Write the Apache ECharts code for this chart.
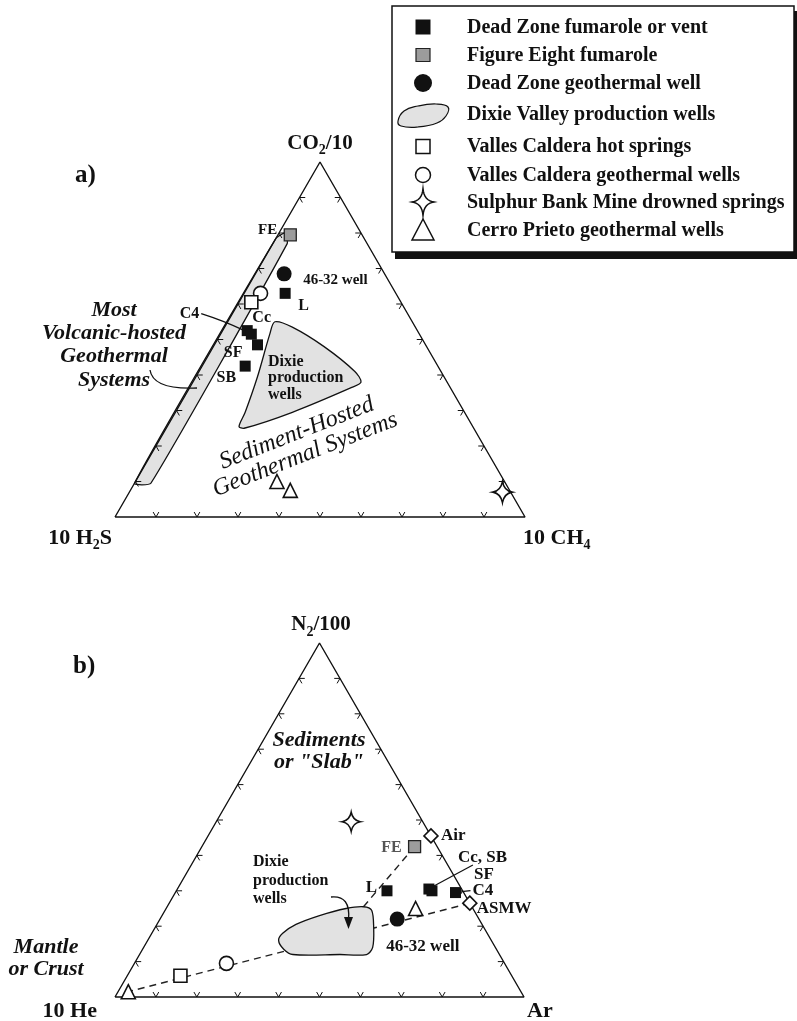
<!DOCTYPE html>
<html>
<head>
<meta charset="utf-8">
<script src="https://cdn.jsdelivr.net/npm/echarts@6/dist/echarts.min.js"></script>
<style>
  html, body { margin: 0; padding: 0; background: #fff; }
  #chart { width: 797px; height: 1021px; }
</style>
</head>
<body>
<div id="chart"></div>
<script>
// ---------------- data ----------------
// tick positions along every triangle side, in percent
const tickPercents = [10, 20, 30, 40, 50, 60, 70, 80, 90];

const legendNames = [
  'Dead Zone fumarole or vent',
  'Figure Eight fumarole',
  'Dead Zone geothermal well',
  'Dixie Valley production wells',
  'Valles Caldera hot springs',
  'Valles Caldera geothermal wells',
  'Sulphur Bank Mine drowned springs',
  'Cerro Prieto geothermal wells'
];

// Panel a: relative proportions [CO2/10, 10 H2S, 10 CH4] in percent
const aVertexNames = ['CO2/10', '10 H2S', '10 CH4'];
const aDeadZoneNames = ['C4', 'Cc', 'SF', 'SB', 'L'];
const aDeadZoneVents = [[52.5, 41.5, 6], [51.5, 41, 7.5], [48.5, 41, 10.5], [42.5, 47, 10.5], [63, 27, 10]];
const aFigureEight = [[79.5, 17.5, 3]];
const aDeadZoneWell = [[68.5, 24.5, 7]];
const aVallesSprings = [[60.5, 36.5, 3]];
const aVallesWells = [[63, 33, 4]];
const aSulphurBank = [[7, 2, 91]];
const aCerroPrieto = [[10, 55.5, 34.5], [7.5, 53.5, 39]];
const aDixieField = [
  [55, 33.5, 11.5], [53.5, 30, 16.5], [48, 25, 27], [41, 21, 38], [38, 21, 41], [36.5, 24, 39.5],
  [29.5, 42, 28.5], [25, 56, 19], [25.5, 57, 17.5], [29.5, 53.5, 17], [39.5, 45.5, 15], [51.5, 36.5, 12]
];
const aVolcanicField = [[9.5, 90.5, 0], [9.5, 86.5, 4], [77, 19.5, 3.5], [80, 18.5, 1.5], [78.5, 21.5, 0]];

// Panel b: relative proportions [N2/100, 10 He, Ar] in percent
const bVertexNames = ['N2/100', '10 He', 'Ar'];
const bDeadZoneNames = ['L', 'Cc, SB', 'SF', 'C4'];
const bDeadZoneVents = [[30, 18.5, 51.5], [30.5, 8, 61.5], [30, 7.5, 62.5], [29.5, 2, 68.5]];
const bFigureEight = [[42.5, 5.5, 52]];
const bDeadZoneWell = [[22, 20, 58]];
const bVallesSprings = [[6, 81, 13]];
const bVallesWells = [[9.5, 68, 22.5]];
const bSulphurBank = [[49.5, 17.5, 33]];
const bCerroPrieto = [[25, 14, 61], [1.5, 96, 2.5]];
const bReferenceNames = ['Air', 'ASMW'];
const bReferenceWaters = [[45.5, 0, 54.5], [26.5, 0, 73.5]];
const bDixieField = [
  [18, 50, 32], [20.5, 45.5, 34], [23, 38.5, 38.5], [25, 31, 44], [25.5, 26.5, 48], [24.5, 25, 50.5],
  [19.5, 27, 53.5], [14, 30, 56], [12, 32.5, 55.5], [12, 39, 49], [12, 50.5, 37.5], [13.5, 52, 34.5], [16, 52, 32]
];
// mixing trends: [from, to]
const bAirTrend = [[42.5, 5.5, 52], [25.5, 26.5, 48]];
const bMantleTrend = [[26.5, 0, 73.5], [1.5, 96, 2.5]];

// ---------------- helpers ----------------
const H = Math.sqrt(3) / 2;
// [top, left, right] proportions -> cartesian point in a unit triangle
function tern(c) {
  const s = c[0] + c[1] + c[2];
  const t = c[0] / s, r = c[2] / s;
  return [r + t / 2, t * H];
}
const SERIF = '"Liberation Serif","Times New Roman",Times,serif';
const INK = '#111';
const FIELD = '#e2e2e2';
const STAR = 'path://M0,-14 Q2,-2 11,0 Q2,2 0,14 Q-2,2 -11,0 Q-2,-2 0,-14Z';

function frameSeries(g, z) {
  return {
    type: 'line', xAxisIndex: g, yAxisIndex: g, z, clip: false, silent: true,
    data: [tern([0, 100, 0]), tern([0, 0, 100]), tern([100, 0, 0]), tern([0, 100, 0])],
    symbol: 'none', lineStyle: { color: INK, width: 1.4 }
  };
}

function tickSeries(g, z) {
  const items = [];
  [0, 1, 2].forEach(e => tickPercents.forEach(p => {
    const f = p / 100;
    const P = e === 0 ? [0, 1 - f, f] : e === 1 ? [f, 1 - f, 0] : [f, 0, 1 - f];
    const xy = tern(P);
    items.push([xy[0], xy[1], e, f]);
  }));
  return {
    type: 'custom', coordinateSystem: 'cartesian2d', xAxisIndex: g, yAxisIndex: g, z, silent: true,
    data: items,
    renderItem(params, api) {
      const e = api.value(2), f = api.value(3), d = 0.014;
      let P, A, B;
      if (e === 0) { P = [0, 1 - f, f]; A = [d, 1 - f - d, f]; B = [d, 1 - f, f - d]; }
      else if (e === 1) { P = [f, 1 - f, 0]; A = [f, 1 - f - d, d]; B = [f - d, 1 - f, d]; }
      else { P = [f, 0, 1 - f]; A = [f, d, 1 - f - d]; B = [f - d, d, 1 - f]; }
      return {
        type: 'polyline',
        shape: { points: [A, P, B].map(c => api.coord(tern(c))) },
        style: { stroke: INK, lineWidth: 1, fill: null }
      };
    }
  };
}

function fieldSeries(g, pts, smooth, z) {
  return {
    type: 'custom', coordinateSystem: 'cartesian2d', xAxisIndex: g, yAxisIndex: g, z, silent: true,
    data: pts.map(tern),
    renderItem(params, api) {
      if (params.dataIndex !== 0) return null;
      return {
        type: 'polygon',
        shape: { points: pts.map(c => api.coord(tern(c))), smooth },
        style: { fill: FIELD, stroke: INK, lineWidth: 1.3 }
      };
    }
  };
}

function pointSeries(g, name, comps, symbol, size, itemStyle, z) {
  return {
    type: 'scatter', name, xAxisIndex: g, yAxisIndex: g, z, clip: false, silent: true,
    data: comps.map(tern), symbol, symbolSize: size, itemStyle: Object.assign({ opacity: 1 }, itemStyle)
  };
}

function trendSeries(g, pair, z) {
  return {
    type: 'line', xAxisIndex: g, yAxisIndex: g, z, clip: false, silent: true,
    data: pair.map(tern), symbol: 'none',
    lineStyle: { color: '#222', width: 1.4, type: [7, 5] }
  };
}

const solid = { color: INK };
const grey = { color: '#9c9c9c', borderColor: '#222', borderWidth: 1.3 };
const hollow = { color: '#fff', borderColor: INK, borderWidth: 1.6 };

const option = {
  animation: false,
  backgroundColor: '#fff',
  grid: [
    { left: 115, top: 162, width: 410, height: 355, outerBoundsMode: 'none' },
    { left: 115, top: 643, width: 409, height: 354, outerBoundsMode: 'none' }
  ],
  xAxis: [0, 1].map(g => ({ gridIndex: g, type: 'value', min: 0, max: 1, show: false })),
  yAxis: [0, 1].map(g => ({ gridIndex: g, type: 'value', min: 0, max: H, show: false })),
  series: [
    // panel a
    fieldSeries(0, aVolcanicField, 0.15, 1),
    fieldSeries(0, aDixieField, 0.3, 1),
    frameSeries(0, 2),
    tickSeries(0, 2),
    pointSeries(0, legendNames[5], aVallesWells, 'circle', 14, hollow, 3),
    pointSeries(0, legendNames[4], aVallesSprings, 'rect', 13, hollow, 3),
    pointSeries(0, legendNames[0], aDeadZoneVents, 'rect', 11, solid, 3),
    pointSeries(0, legendNames[1], aFigureEight, 'rect', 12, grey, 3),
    pointSeries(0, legendNames[2], aDeadZoneWell, 'circle', 15, solid, 3),
    pointSeries(0, legendNames[6], aSulphurBank, STAR, [19, 21], hollow, 3),
    pointSeries(0, legendNames[7], aCerroPrieto, 'triangle', 14, hollow, 3),
    // panel b
    trendSeries(1, bAirTrend, 1),
    trendSeries(1, bMantleTrend, 1),
    fieldSeries(1, bDixieField, 0.3, 2),
    frameSeries(1, 3),
    tickSeries(1, 3),
    pointSeries(1, legendNames[5], bVallesWells, 'circle', 14, hollow, 4),
    pointSeries(1, legendNames[4], bVallesSprings, 'rect', 13, hollow, 4),
    pointSeries(1, legendNames[0], bDeadZoneVents, 'rect', 11, solid, 4),
    pointSeries(1, legendNames[1], bFigureEight, 'rect', 12, grey, 4),
    pointSeries(1, legendNames[2], bDeadZoneWell, 'circle', 15, solid, 4),
    pointSeries(1, legendNames[6], bSulphurBank, STAR, [18, 19], hollow, 4),
    pointSeries(1, legendNames[7], bCerroPrieto, 'triangle', 14, hollow, 4),
    pointSeries(1, 'reference waters', bReferenceWaters, 'diamond', 14, hollow, 4)
  ]
};

const chart = echarts.init(document.getElementById('chart'), null, { renderer: 'canvas' });
chart.setOption(option);

// ---------------- annotations ----------------
const pa = c => chart.convertToPixel({ gridIndex: 0 }, tern(c));
const pb = c => chart.convertToPixel({ gridIndex: 1 }, tern(c));

function T(x, y, text, size, o = {}) {
  return {
    type: 'text', x, y, z: 100, silent: true, rotation: o.rot || 0,
    style: {
      text, fontFamily: SERIF, fontSize: size,
      fontWeight: o.weight || 'bold', fontStyle: o.style || 'normal',
      fill: o.fill || INK, align: o.align || 'left', verticalAlign: 'middle',
      lineHeight: o.lh || Math.round(size * 1.1)
    }
  };
}
const measureCtx = document.createElement('canvas').getContext('2d');
// label with subscript digits, e.g. CO2/10
function subLabel(text, x, y, size, align) {
  const parts = text.split(/(\d(?=[A-Z\/]|$))/).filter(Boolean);
  const subSize = Math.round(size * 0.65);
  const isSub = (s, i) => /^\d$/.test(s) && i > 0 && /[A-Z]$/.test(parts[i - 1]);
  const widths = parts.map((s, i) => {
    measureCtx.font = `bold ${isSub(s, i) ? subSize : size}px ${SERIF}`;
    return measureCtx.measureText(s).width;
  });
  const total = widths.reduce((a, b) => a + b, 0);
  let cx = align === 'center' ? x - total / 2 : align === 'right' ? x - total : x;
  return parts.map((s, i) => {
    const sub = isSub(s, i);
    const el = T(cx, sub ? y + size * 0.33 : y, s, sub ? subSize : size);
    cx += widths[i];
    return el;
  });
}
function L(x1, y1, x2, y2) {
  return { type: 'line', z: 100, silent: true, shape: { x1, y1, x2, y2 }, style: { stroke: INK, lineWidth: 1.2 } };
}
function curve(x1, y1, cpx1, cpy1, x2, y2) {
  return { type: 'bezierCurve', z: 100, silent: true, shape: { x1, y1, cpx1, cpy1, x2, y2 }, style: { stroke: INK, lineWidth: 1.3, fill: null } };
}
// four-pointed star with concave sides, as a polygon
function starPoints(cx, cy, w, h) {
  const tips = [[0, -h / 2], [w / 2, 0], [0, h / 2], [-w / 2, 0]];
  const pts = [];
  for (let k = 0; k < 4; k++) {
    const a = tips[k], b = tips[(k + 1) % 4];
    const c = [(a[0] + b[0]) * 0.09, (a[1] + b[1]) * 0.09];
    for (let s = 0; s < 8; s++) {
      const t = s / 8;
      const x = (1 - t) * (1 - t) * a[0] + 2 * (1 - t) * t * c[0] + t * t * b[0];
      const y = (1 - t) * (1 - t) * a[1] + 2 * (1 - t) * t * c[1] + t * t * b[1];
      pts.push([cx + x, cy + y]);
    }
  }
  return pts;
}

const G = [];

// legend box
G.push({ type: 'rect', z: 90, silent: true, shape: { x: 395, y: 11, width: 402, height: 248 }, style: { fill: '#111' } });
G.push({ type: 'rect', z: 91, silent: true, shape: { x: 392, y: 6, width: 402, height: 246 }, style: { fill: '#fff', stroke: INK, lineWidth: 1.5 } });
const rowY = [27, 55, 83, 114.5, 146.5, 175, 202, 230];
const sx = 423;
G.push({ type: 'rect', z: 100, silent: true, shape: { x: sx - 7.5, y: rowY[0] - 7.5, width: 15, height: 15 }, style: { fill: INK } });
G.push({ type: 'rect', z: 100, silent: true, shape: { x: sx - 7, y: rowY[1] - 6.5, width: 14, height: 13 }, style: { fill: '#9c9c9c', stroke: '#222', lineWidth: 1.2 } });
G.push({ type: 'circle', z: 100, silent: true, shape: { cx: sx, cy: rowY[2], r: 9 }, style: { fill: INK } });
G.push({
  type: 'polygon', z: 100, silent: true,
  shape: { smooth: 0.45, points: [[398, 121], [404, 111], [418, 106], [436, 104], [448, 107], [446, 116], [437, 123], [418, 127], [401, 126]] },
  style: { fill: FIELD, stroke: INK, lineWidth: 1.2 }
});
G.push({ type: 'rect', z: 100, silent: true, shape: { x: sx - 7, y: rowY[4] - 7, width: 14, height: 14 }, style: { fill: '#fff', stroke: INK, lineWidth: 1.5 } });
G.push({ type: 'circle', z: 100, silent: true, shape: { cx: sx, cy: rowY[5], r: 7.5 }, style: { fill: '#fff', stroke: INK, lineWidth: 1.5 } });
G.push({ type: 'polygon', z: 100, silent: true, shape: { points: starPoints(sx, rowY[6], 22, 27) }, style: { fill: '#fff', stroke: INK, lineWidth: 1.5 } });
G.push({ type: 'polygon', z: 100, silent: true, shape: { points: [[sx, rowY[7] - 11], [sx + 11, rowY[7] + 10], [sx - 11, rowY[7] + 10]] }, style: { fill: '#fff', stroke: INK, lineWidth: 1.5 } });
legendNames.forEach((n, i) => G.push(T(467, rowY[i] + 0.5, n, 20)));

// panel titles and vertices
G.push(T(75, 176, 'a)', 25));
G.push(T(73, 667, 'b)', 25));
G.push(...subLabel(aVertexNames[0], 320, 143.5, 21, 'center'));
G.push(...subLabel(aVertexNames[1], 112, 538, 22, 'right'));
G.push(...subLabel(aVertexNames[2], 523, 538, 22, 'left'));
G.push(...subLabel(bVertexNames[0], 321, 625, 21, 'center'));
G.push(...subLabel(bVertexNames[1], 97, 1011, 22, 'right'));
G.push(...subLabel(bVertexNames[2], 527, 1011, 22, 'left'));

// panel a point labels
{
  const fe = pa(aFigureEight[0]);
  G.push(T(fe[0] - 13, fe[1] - 5, 'FE', 15, { align: 'right' }));
  const w = pa(aDeadZoneWell[0]);
  G.push(T(w[0] + 19, w[1] + 6, '46-32 well', 15));
  const pts = aDeadZoneVents.map(pa);
  const off = { C4: [-48, -17, 'right'], Cc: [1, -16, 'left'], SF: [-15, 8, 'right'], SB: [-9, 12, 'right'], L: [13, 13, 'left'] };
  aDeadZoneNames.forEach((n, i) => {
    const o = off[n];
    G.push(T(pts[i][0] + o[0], pts[i][1] + o[1], n, 16, { align: o[2] }));
  });
  const c4 = pts[0];
  G.push(curve(c4[0] - 46, c4[1] - 17, c4[0] - 24, c4[1] - 10, c4[0] - 5, c4[1] - 1));
}
G.push(T(268, 378, 'Dixie\nproduction\nwells', 16, { lh: 16.5 }));
G.push(T(114, 345, 'Most\nVolcanic-hosted\nGeothermal\nSystems', 22, { style: 'italic', lh: 23.3, align: 'center' }));
G.push(curve(150, 370, 153, 390, 197, 388));
G.push(T(301, 444, 'Sediment-Hosted\nGeothermal Systems', 24, { weight: 'normal', style: 'italic', lh: 23, align: 'center', rot: 0.373 }));

// panel b point labels
{
  const rw = bReferenceWaters.map(pb);
  G.push(T(rw[0][0] + 10, rw[0][1], bReferenceNames[0], 17));
  G.push(T(rw[1][0] + 7, rw[1][1] + 5, bReferenceNames[1], 17));
  const fe = pb(bFigureEight[0]);
  G.push(T(fe[0] - 13, fe[1] + 1, 'FE', 16, { align: 'right', fill: '#555' }));
  const pts = bDeadZoneVents.map(pb);
  const off = { 'L': [-10, -3, 'right'], 'Cc, SB': [29, -31, 'left'], 'SF': [42, -16, 'left'], 'C4': [17, -2, 'left'] };
  bDeadZoneNames.forEach((n, i) => {
    const o = off[n];
    G.push(T(pts[i][0] + o[0], pts[i][1] + o[1], n, 17, { align: o[2] }));
  });
  G.push(L(pts[1][0] + 5, pts[1][1] - 3, pts[1][0] + 44, pts[1][1] - 24));
  G.push(L(pts[3][0] + 6, pts[3][1] - 1, pts[3][0] + 15, pts[3][1] - 2));
  const w = pb(bDeadZoneWell[0]);
  G.push(T(w[0] - 11, w[1] + 27, '46-32 well', 17));
}
G.push(T(253, 880.5, 'Dixie\nproduction\nwells', 16, { lh: 18.5 }));
G.push(curve(331, 897, 351, 895, 348.5, 920));
G.push({ type: 'polygon', z: 100, silent: true, shape: { points: [[348.5, 929], [344, 917], [353, 917]] }, style: { fill: INK } });
G.push(T(319, 751.5, 'Sediments\nor "Slab"', 22, { style: 'italic', lh: 22, align: 'center' }));
G.push(T(46, 958, 'Mantle\nor Crust', 22, { style: 'italic', lh: 22, align: 'center' }));

chart.setOption({ graphic: { elements: G } });
</script>
</body>
</html>
